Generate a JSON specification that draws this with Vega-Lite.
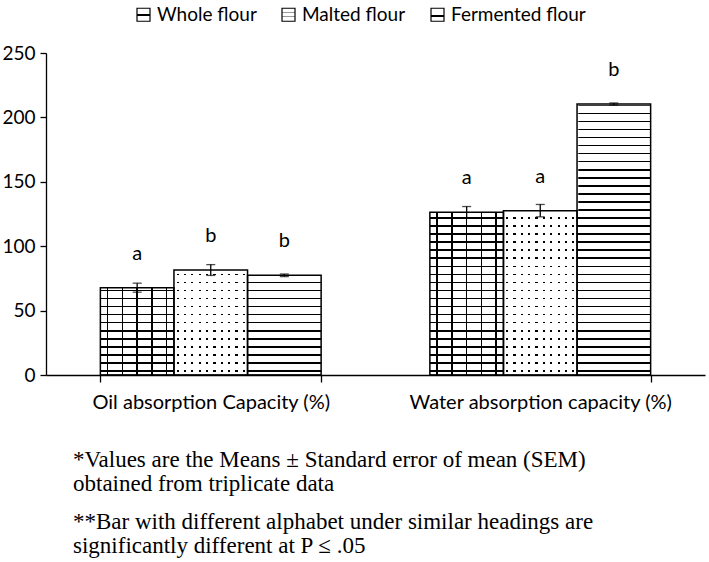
{
 "$schema": "https://vega.github.io/schema/vega-lite/v6.json",
 "width": 659, "height": 322,
 "autosize": "none",
 "padding": {"left": 46, "top": 53, "right": 4, "bottom": 187},
 "background": "white",
 "data": {"values": [
  {"measure": "Oil absorption Capacity (%)", "flour": "Whole flour", "value": 67.8, "sem": 3.5, "letter": "a"},
  {"measure": "Oil absorption Capacity (%)", "flour": "Malted flour", "value": 81.5, "sem": 4.2, "letter": "b"},
  {"measure": "Oil absorption Capacity (%)", "flour": "Fermented flour", "value": 77.4, "sem": 1.0, "letter": "b"},
  {"measure": "Water absorption capacity (%)", "flour": "Whole flour", "value": 126.3, "sem": 4.5, "letter": "a"},
  {"measure": "Water absorption capacity (%)", "flour": "Malted flour", "value": 127.6, "sem": 4.8, "letter": "a"},
  {"measure": "Water absorption capacity (%)", "flour": "Fermented flour", "value": 210.4, "sem": 0.8, "letter": "b"}
 ]},
 "title": {
  "text": ["*Values are the Means ± Standard error of mean (SEM)", "obtained from triplicate data"],
  "subtitle": ["**Bar with different alphabet under similar headings are", "significantly different at P ≤ .05"],
  "orient": "bottom", "anchor": "start", "frame": "group", "dx": 27, "offset": 37,
  "font": "Liberation Serif", "fontSize": 23, "fontWeight": "normal", "color": "#000", "lineHeight": 24,
  "subtitleFont": "Liberation Serif", "subtitleFontSize": 23, "subtitleColor": "#000", "subtitleLineHeight": 24, "subtitlePadding": 15
 },
 "encoding": {
  "x": {"field": "measure", "type": "nominal", "title": null,
   "scale": {"paddingInner": 0.33, "paddingOuter": 0.165},
   "axis": {"labelAngle": 0, "labelFont": "Lato", "labelFontSize": 20, "labelLimit": 0, "labelPadding": 10, "tickSize": 7, "tickBand": "extent", "labelColor": "#000", "domainColor": "#000", "tickColor": "#000", "domainWidth": 1.3, "tickWidth": 1.3}},
  "xOffset": {"field": "flour", "type": "nominal", "sort": ["Whole flour", "Malted flour", "Fermented flour"], "scale": {"paddingInner": 0, "paddingOuter": 0}},
  "y": {"field": "value", "type": "quantitative", "title": null,
   "scale": {"domain": [0, 250], "nice": false},
   "axis": {"values": [0, 50, 100, 150, 200, 250], "grid": false, "labelFont": "Lato", "labelFontSize": 19, "labelPadding": 5, "tickSize": 6, "labelColor": "#000", "domainColor": "#000", "tickColor": "#000", "domainWidth": 1.3, "tickWidth": 1.3}}
 },
 "layer": [
  {"mark": {"type": "bar", "stroke": null, "fill": {"gradient": "linear", "x1": 0, "y1": 0, "x2": 0, "y2": 1, "stops": [
   {"offset":0,"color":"#fff"},
   {"offset":0.01,"color":"#fff"},{"offset":0.01,"color":"#000"},{"offset":0.015,"color":"#000"},{"offset":0.015,"color":"#fff"},
   {"offset":0.035,"color":"#fff"},{"offset":0.035,"color":"#000"},{"offset":0.04,"color":"#000"},{"offset":0.04,"color":"#fff"},
   {"offset":0.06,"color":"#fff"},{"offset":0.06,"color":"#000"},{"offset":0.065,"color":"#000"},{"offset":0.065,"color":"#fff"},
   {"offset":0.085,"color":"#fff"},{"offset":0.085,"color":"#000"},{"offset":0.09,"color":"#000"},{"offset":0.09,"color":"#fff"},
   {"offset":0.11,"color":"#fff"},{"offset":0.11,"color":"#000"},{"offset":0.115,"color":"#000"},{"offset":0.115,"color":"#fff"},
   {"offset":0.135,"color":"#fff"},{"offset":0.135,"color":"#000"},{"offset":0.14,"color":"#000"},{"offset":0.14,"color":"#fff"},
   {"offset":0.16,"color":"#fff"},{"offset":0.16,"color":"#000"},{"offset":0.165,"color":"#000"},{"offset":0.165,"color":"#fff"},
   {"offset":0.185,"color":"#fff"},{"offset":0.185,"color":"#000"},{"offset":0.19,"color":"#000"},{"offset":0.19,"color":"#fff"},
   {"offset":0.21,"color":"#fff"},{"offset":0.21,"color":"#000"},{"offset":0.215,"color":"#000"},{"offset":0.215,"color":"#fff"},
   {"offset":0.235,"color":"#fff"},{"offset":0.235,"color":"#000"},{"offset":0.24,"color":"#000"},{"offset":0.24,"color":"#fff"},
   {"offset":0.26,"color":"#fff"},{"offset":0.26,"color":"#000"},{"offset":0.265,"color":"#000"},{"offset":0.265,"color":"#fff"},
   {"offset":0.285,"color":"#fff"},{"offset":0.285,"color":"#000"},{"offset":0.29,"color":"#000"},{"offset":0.29,"color":"#fff"},
   {"offset":0.31,"color":"#fff"},{"offset":0.31,"color":"#000"},{"offset":0.315,"color":"#000"},{"offset":0.315,"color":"#fff"},
   {"offset":0.335,"color":"#fff"},{"offset":0.335,"color":"#000"},{"offset":0.34,"color":"#000"},{"offset":0.34,"color":"#fff"},
   {"offset":0.36,"color":"#fff"},{"offset":0.36,"color":"#000"},{"offset":0.365,"color":"#000"},{"offset":0.365,"color":"#fff"},
   {"offset":0.385,"color":"#fff"},{"offset":0.385,"color":"#000"},{"offset":0.39,"color":"#000"},{"offset":0.39,"color":"#fff"},
   {"offset":0.41,"color":"#fff"},{"offset":0.41,"color":"#000"},{"offset":0.415,"color":"#000"},{"offset":0.415,"color":"#fff"},
   {"offset":0.435,"color":"#fff"},{"offset":0.435,"color":"#000"},{"offset":0.44,"color":"#000"},{"offset":0.44,"color":"#fff"},
   {"offset":0.46,"color":"#fff"},{"offset":0.46,"color":"#000"},{"offset":0.465,"color":"#000"},{"offset":0.465,"color":"#fff"},
   {"offset":0.485,"color":"#fff"},{"offset":0.485,"color":"#000"},{"offset":0.49,"color":"#000"},{"offset":0.49,"color":"#fff"},
   {"offset":0.51,"color":"#fff"},{"offset":0.51,"color":"#000"},{"offset":0.515,"color":"#000"},{"offset":0.515,"color":"#fff"},
   {"offset":0.535,"color":"#fff"},{"offset":0.535,"color":"#000"},{"offset":0.54,"color":"#000"},{"offset":0.54,"color":"#fff"},
   {"offset":0.56,"color":"#fff"},{"offset":0.56,"color":"#000"},{"offset":0.565,"color":"#000"},{"offset":0.565,"color":"#fff"},
   {"offset":0.585,"color":"#fff"},{"offset":0.585,"color":"#000"},{"offset":0.59,"color":"#000"},{"offset":0.59,"color":"#fff"},
   {"offset":0.61,"color":"#fff"},{"offset":0.61,"color":"#000"},{"offset":0.615,"color":"#000"},{"offset":0.615,"color":"#fff"},
   {"offset":0.635,"color":"#fff"},{"offset":0.635,"color":"#000"},{"offset":0.64,"color":"#000"},{"offset":0.64,"color":"#fff"},
   {"offset":0.66,"color":"#fff"},{"offset":0.66,"color":"#000"},{"offset":0.665,"color":"#000"},{"offset":0.665,"color":"#fff"},
   {"offset":0.685,"color":"#fff"},{"offset":0.685,"color":"#000"},{"offset":0.69,"color":"#000"},{"offset":0.69,"color":"#fff"},
   {"offset":0.71,"color":"#fff"},{"offset":0.71,"color":"#000"},{"offset":0.715,"color":"#000"},{"offset":0.715,"color":"#fff"},
   {"offset":0.735,"color":"#fff"},{"offset":0.735,"color":"#000"},{"offset":0.74,"color":"#000"},{"offset":0.74,"color":"#fff"},
   {"offset":0.76,"color":"#fff"},{"offset":0.76,"color":"#000"},{"offset":0.765,"color":"#000"},{"offset":0.765,"color":"#fff"},
   {"offset":0.785,"color":"#fff"},{"offset":0.785,"color":"#000"},{"offset":0.79,"color":"#000"},{"offset":0.79,"color":"#fff"},
   {"offset":0.81,"color":"#fff"},{"offset":0.81,"color":"#000"},{"offset":0.815,"color":"#000"},{"offset":0.815,"color":"#fff"},
   {"offset":0.835,"color":"#fff"},{"offset":0.835,"color":"#000"},{"offset":0.84,"color":"#000"},{"offset":0.84,"color":"#fff"},
   {"offset":0.86,"color":"#fff"},{"offset":0.86,"color":"#000"},{"offset":0.865,"color":"#000"},{"offset":0.865,"color":"#fff"},
   {"offset":0.885,"color":"#fff"},{"offset":0.885,"color":"#000"},{"offset":0.89,"color":"#000"},{"offset":0.89,"color":"#fff"},
   {"offset":0.91,"color":"#fff"},{"offset":0.91,"color":"#000"},{"offset":0.915,"color":"#000"},{"offset":0.915,"color":"#fff"},
   {"offset":0.935,"color":"#fff"},{"offset":0.935,"color":"#000"},{"offset":0.94,"color":"#000"},{"offset":0.94,"color":"#fff"},
   {"offset":0.96,"color":"#fff"},{"offset":0.96,"color":"#000"},{"offset":0.965,"color":"#000"},{"offset":0.965,"color":"#fff"},
   {"offset":0.985,"color":"#fff"},{"offset":0.985,"color":"#000"},{"offset":0.99,"color":"#000"},{"offset":0.99,"color":"#fff"},
   {"offset":1,"color":"#fff"}]}},
   "encoding": {"y": {"datum": 250, "type": "quantitative", "title": null}, "y2": {"datum": 0}}},
  {"mark": {"type": "bar", "fill": "#fff", "stroke": "#fff", "strokeWidth": 2.5},
   "encoding": {"y2": {"datum": 250}}},
  {"mark": {"type": "bar", "stroke": null},
   "encoding": {"fill": {"condition": [
    {"test": "datum.flour === 'Whole flour'", "value": {"gradient": "linear", "x1": 0, "y1": 0, "x2": 1, "y2": 0, "stops": [
     {"offset":0,"color":"rgba(0,0,0,0)"},
     {"offset":0.09,"color":"rgba(0,0,0,0)"},{"offset":0.09,"color":"#000"},{"offset":0.11,"color":"#000"},{"offset":0.11,"color":"rgba(0,0,0,0)"},
     {"offset":0.29,"color":"rgba(0,0,0,0)"},{"offset":0.29,"color":"#000"},{"offset":0.31,"color":"#000"},{"offset":0.31,"color":"rgba(0,0,0,0)"},
     {"offset":0.49,"color":"rgba(0,0,0,0)"},{"offset":0.49,"color":"#000"},{"offset":0.51,"color":"#000"},{"offset":0.51,"color":"rgba(0,0,0,0)"},
     {"offset":0.69,"color":"rgba(0,0,0,0)"},{"offset":0.69,"color":"#000"},{"offset":0.71,"color":"#000"},{"offset":0.71,"color":"rgba(0,0,0,0)"},
     {"offset":0.89,"color":"rgba(0,0,0,0)"},{"offset":0.89,"color":"#000"},{"offset":0.91,"color":"#000"},{"offset":0.91,"color":"rgba(0,0,0,0)"},
     {"offset":1,"color":"rgba(0,0,0,0)"}]}},
    {"test": "datum.flour === 'Malted flour'", "value": {"gradient": "linear", "x1": 0, "y1": 0, "x2": 1, "y2": 0, "stops": [
     {"offset":0,"color":"#fff"},
     {"offset":0.035,"color":"#fff"},{"offset":0.035,"color":"rgba(255,255,255,0)"},{"offset":0.065,"color":"rgba(255,255,255,0)"},{"offset":0.065,"color":"#fff"},
     {"offset":0.135,"color":"#fff"},{"offset":0.135,"color":"rgba(255,255,255,0)"},{"offset":0.165,"color":"rgba(255,255,255,0)"},{"offset":0.165,"color":"#fff"},
     {"offset":0.235,"color":"#fff"},{"offset":0.235,"color":"rgba(255,255,255,0)"},{"offset":0.265,"color":"rgba(255,255,255,0)"},{"offset":0.265,"color":"#fff"},
     {"offset":0.335,"color":"#fff"},{"offset":0.335,"color":"rgba(255,255,255,0)"},{"offset":0.365,"color":"rgba(255,255,255,0)"},{"offset":0.365,"color":"#fff"},
     {"offset":0.435,"color":"#fff"},{"offset":0.435,"color":"rgba(255,255,255,0)"},{"offset":0.465,"color":"rgba(255,255,255,0)"},{"offset":0.465,"color":"#fff"},
     {"offset":0.535,"color":"#fff"},{"offset":0.535,"color":"rgba(255,255,255,0)"},{"offset":0.565,"color":"rgba(255,255,255,0)"},{"offset":0.565,"color":"#fff"},
     {"offset":0.635,"color":"#fff"},{"offset":0.635,"color":"rgba(255,255,255,0)"},{"offset":0.665,"color":"rgba(255,255,255,0)"},{"offset":0.665,"color":"#fff"},
     {"offset":0.735,"color":"#fff"},{"offset":0.735,"color":"rgba(255,255,255,0)"},{"offset":0.765,"color":"rgba(255,255,255,0)"},{"offset":0.765,"color":"#fff"},
     {"offset":0.835,"color":"#fff"},{"offset":0.835,"color":"rgba(255,255,255,0)"},{"offset":0.865,"color":"rgba(255,255,255,0)"},{"offset":0.865,"color":"#fff"},
     {"offset":0.935,"color":"#fff"},{"offset":0.935,"color":"rgba(255,255,255,0)"},{"offset":0.965,"color":"rgba(255,255,255,0)"},{"offset":0.965,"color":"#fff"},
     {"offset":1,"color":"#fff"}]}}],
    "value": "transparent"}}},
  {"mark": {"type": "bar", "fill": "transparent", "stroke": "#000", "strokeWidth": 1.5},
   "encoding": {}},
  {"mark": {"type": "bar", "stroke": "#000", "strokeWidth": 1.2},
   "encoding": {"y": {"datum": 0, "type": "quantitative", "title": null}, "y2": {"datum": 0},
    "fill": {"field": "flour", "type": "nominal",
     "scale": {"domain": ["Whole flour", "Malted flour", "Fermented flour"], "range": [
      {"expr": "{gradient: 'linear', x1: 0, y1: 0, x2: 0, y2: 1, stops: [{offset: 0, color: '#fff'}, {offset: 0.42, color: '#fff'}, {offset: 0.42, color: '#000'}, {offset: 0.58, color: '#000'}, {offset: 0.58, color: '#fff'}, {offset: 1, color: '#fff'}]}"},
      {"expr": "{gradient: 'linear', x1: 0, y1: 0, x2: 0, y2: 1, stops: [{offset: 0, color: '#fff'}, {offset: 0.3, color: '#fff'}, {offset: 0.3, color: '#999'}, {offset: 0.38, color: '#999'}, {offset: 0.38, color: '#fff'}, {offset: 0.62, color: '#fff'}, {offset: 0.62, color: '#999'}, {offset: 0.7, color: '#999'}, {offset: 0.7, color: '#fff'}, {offset: 1, color: '#fff'}]}"},
      {"expr": "{gradient: 'linear', x1: 0, y1: 0, x2: 0, y2: 1, stops: [{offset: 0, color: '#fff'}, {offset: 0.55, color: '#fff'}, {offset: 0.55, color: '#000'}, {offset: 0.7, color: '#000'}, {offset: 0.7, color: '#fff'}, {offset: 1, color: '#fff'}]}"}
     ]},
     "legend": {"title": null, "orient": "none", "legendX": 88, "legendY": -48, "direction": "horizontal",
      "symbolType": "square", "symbolSize": 169, "symbolStrokeColor": "#000", "symbolStrokeWidth": 1.2, "labelFont": "Lato", "labelFontSize": 19, "labelColor": "#000", "labelOffset": 4, "columnPadding": 22}}}},
  {"mark": {"type": "errorbar", "ticks": {"size": 9}, "color": "#000", "thickness": 1.3},
   "encoding": {"yError": {"field": "sem"}}},
  {"mark": {"type": "text", "font": "Lato", "fontSize": 20, "dy": -34, "baseline": "middle", "color": "#000"},
   "encoding": {"text": {"field": "letter"}}}
 ],
 "config": {"view": {"stroke": null}}
}
